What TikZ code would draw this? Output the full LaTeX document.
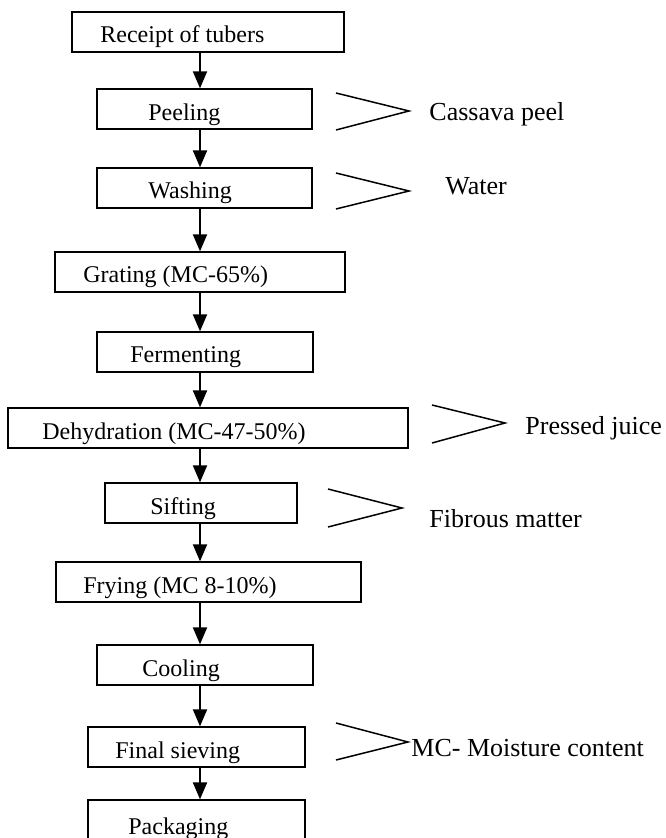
\documentclass[tikz,border=0pt]{standalone}
\usepackage{fontspec}
\setmainfont{Liberation Serif}
\usetikzlibrary{arrows.meta, positioning, fit}
\tikzset{
  stepbox/.style={rectangle, draw=black, line width=0.65pt, inner sep=0pt},
  steptext/.style={anchor=base west, inner sep=0pt, font=\fontsize{12}{14}\selectfont},
  sidetext/.style={anchor=base west, inner sep=0pt, font=\fontsize{13}{15}\selectfont},
  flow/.style={-{Triangle[width=7pt, length=8.5pt]}, line width=1pt},
  chevron/.style={line width=0.75pt, line join=miter}
}

\begin{document}
\begin{tikzpicture}[x=0.5pt, y=-0.5pt]
  \useasboundingbox (0,0) rectangle (665,838);
  \clip (0,0) rectangle (665,838);
  \coordinate (spine) at (200,0);

  \node[stepbox, fit={(72,12) (344,52)}] (receipt) {};
  \node[steptext] (receipttxt) at (100,43) {Receipt of tubers};

  \node[stepbox, fit={(97,89) (312,129)}] (peeling) {};
  \node[steptext] (peelingtxt) at (148,121) {Peeling};

  \node[stepbox, fit={(97,168) (312,208)}] (washing) {};
  \node[steptext] (washingtxt) at (148,199) {Washing};

  \node[stepbox, fit={(55,252) (345,292)}] (grating) {};
  \node[steptext] (gratingtxt) at (83,283) {Grating (MC-65\%)};

  \node[stepbox, fit={(97,332) (313,372)}] (ferment) {};
  \node[steptext] (fermenttxt) at (130,363) {Fermenting};

  \node[stepbox, fit={(8,408) (408,448)}] (dehyd) {};
  \node[steptext] (dehydtxt) at (42,439) {Dehydration (MC-47-50\%)};

  \node[stepbox, fit={(105,483) (297,523)}] (sifting) {};
  \node[steptext] (siftingtxt) at (150,514) {Sifting};

  \node[stepbox, fit={(56,562) (361,602)}] (frying) {};
  \node[steptext] (fryingtxt) at (83,593) {Frying (MC 8-10\%)};

  \node[stepbox, fit={(97,645) (313,685)}] (cooling) {};
  \node[steptext] (coolingtxt) at (142,676) {Cooling};

  \node[stepbox, fit={(88,727) (305,767)}] (sieving) {};
  \node[steptext] (sievingtxt) at (115,758) {Final sieving};

  \node[stepbox, fit={(88,800) (305,850)}] (packing) {};
  \node[steptext] (packingtxt) at (128,834) {Packaging};

  \foreach \a/\b in {receipt/peeling, peeling/washing, washing/grating, grating/ferment,
                     ferment/dehyd, dehyd/sifting, sifting/frying, frying/cooling,
                     cooling/sieving, sieving/packing}
    \draw[flow] (\a.south -| spine) -- (\b.north -| spine);

  % side streams
  \draw[chevron] (336,93) -- (409,111) -- (336,130);
  \node[sidetext] (peeltxt) at (429,121) {Cassava peel};

  \draw[chevron] (336,173) -- (409,191) -- (336,209);
  \node[sidetext] (watertxt) at (445,195) {Water};

  \draw[chevron] (432,405) -- (505,423) -- (432,443);
  \node[sidetext] (juicetxt) at (525,434) {Pressed juice};

  \draw[chevron] (328,489) -- (402,508) -- (328,527);
  \node[sidetext] (fibretxt) at (429,527) {Fibrous matter};

  \draw[chevron] (336,723) -- (408,742) -- (336,760);
  \node[sidetext] (mctxt) at (411,756) {MC- Moisture content};
\end{tikzpicture}
\end{document}
